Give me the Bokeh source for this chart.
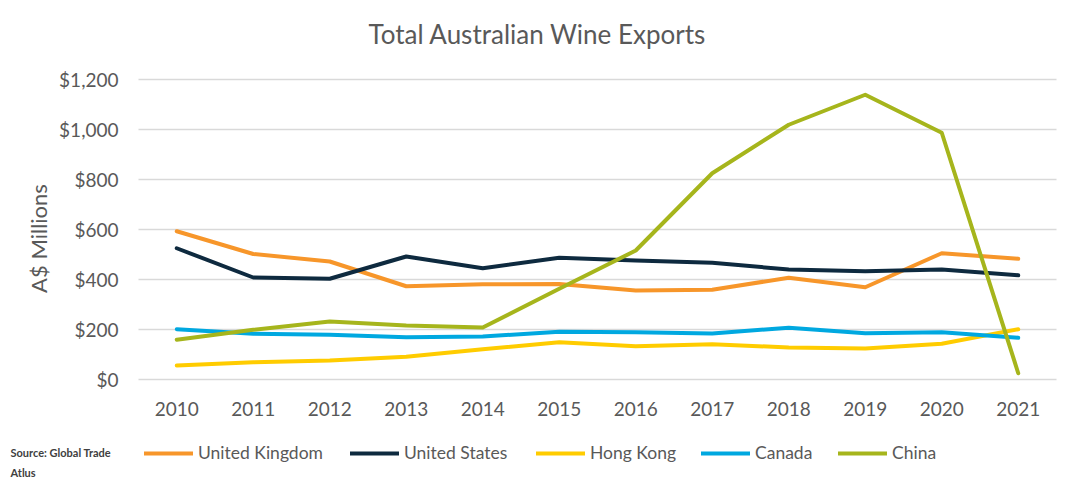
import math
from bokeh.plotting import figure
from bokeh.models import Legend, LegendItem, Label, Range1d
from bokeh.embed import file_html
from bokeh.resources import INLINE

years = [2010, 2011, 2012, 2013, 2014, 2015, 2016, 2017, 2018, 2019, 2020, 2021]
united_kingdom = [593, 502, 472, 373, 381, 382, 356, 359, 407, 369, 505, 483]
united_states = [525, 408, 403, 492, 445, 487, 476, 467, 440, 433, 440, 417]
hong_kong = [56, 69, 76, 91, 121, 149, 133, 141, 128, 124, 143, 201]
canada = [201, 183, 179, 169, 172, 191, 189, 184, 207, 185, 189, 167]
china = [159, 199, 232, 216, 208, 363, 516, 825, 1019, 1139, 987, 25]
y_ticks = [0, 200, 400, 600, 800, 1000, 1200]
y_tick_labels = ["$0", "$200", "$400", "$600", "$800", "$1,000", "$1,200"]
year_labels = [str(y) for y in years]

series = [
    ("United Kingdom", united_kingdom, "#F7962A"),
    ("United States", united_states, "#0E2A3F"),
    ("Hong Kong", hong_kong, "#FFCC00"),
    ("Canada", canada, "#00A8E0"),
    ("China", china, "#A6B51C"),
]

FONT = "Lato"
GREY = "#595959"
W, H = 1080, 483

# plotting area layout in pixels (the frame spans the whole canvas so that
# title / legend / source outside the data area are not clipped)
px_left, px_right = 138, 1056      # category band edges
px_top, px_bottom = 79, 379        # y = 1200 / y = 0
ymax = 1200
x_lo, x_hi = years[0] - 0.5, years[-1] + 0.5
ppx = (px_right - px_left) / (x_hi - x_lo)
ppy = (px_bottom - px_top) / ymax
xr = Range1d(x_lo - px_left / ppx, x_hi + (W - px_right) / ppx)
yr = Range1d(0 - (H - px_bottom) / ppy, ymax + px_top / ppy)

p = figure(width=W, height=H, output_backend="svg", toolbar_location=None,
           x_range=xr, y_range=yr, x_axis_location=None, y_axis_location=None,
           min_border=0)
p.outline_line_color = None
p.grid.visible = False

# horizontal gridlines
p.segment(x0=[x_lo] * len(y_ticks), x1=[x_hi] * len(y_ticks), y0=y_ticks, y1=y_ticks,
          line_color="#D9D9D9", line_width=1.5)

# tick labels
p.text(x=[x_lo] * len(y_ticks), y=y_ticks, text=y_tick_labels, x_offset=-20,
       text_align="right", text_baseline="middle", text_font={"value": FONT},
       text_font_size="19px", text_color=GREY)
p.text(x=years, y=[0] * len(years), text=year_labels, y_offset=29,
       text_align="center", text_baseline="middle", text_font={"value": FONT},
       text_font_size="19px", text_color=GREY)

legend_x = [144, 350, 536, 701, 838]
for (name, vals, color), lx in zip(series, legend_x):
    r = p.line(years, vals, line_color=color, line_width=4, line_cap="round", line_join="round")
    lg = Legend(items=[LegendItem(label=name, renderers=[r])], orientation="horizontal",
                location=(lx, 20), glyph_width=49, glyph_height=20, label_standoff=5,
                label_text_font=FONT, label_text_font_size="17.5px", label_text_color=GREY,
                background_fill_alpha=0, border_line_color=None, padding=0, margin=0)
    p.add_layout(lg, "center")

p.add_layout(Label(x=537, y=H - 33, x_units="screen", y_units="screen",
                   text="Total Australian Wine Exports", text_align="center", text_baseline="middle",
                   text_font=FONT, text_font_size="26px", text_color=GREY))
p.add_layout(Label(x=38, y=H - 238, x_units="screen", y_units="screen", angle=math.pi / 2,
                   text="A$ Millions", text_align="center", text_baseline="middle",
                   text_font=FONT, text_font_size="22px", text_color=GREY))
p.add_layout(Label(x=10, y=H - 445, x_units="screen", y_units="screen",
                   text="Source: Global Trade\nAtlus", text_align="left", text_baseline="top",
                   text_font=FONT, text_font_size="11px", text_font_style="bold",
                   text_color="#404040", text_line_height=1.55))

open("out.html", "w").write(file_html(p, INLINE))
